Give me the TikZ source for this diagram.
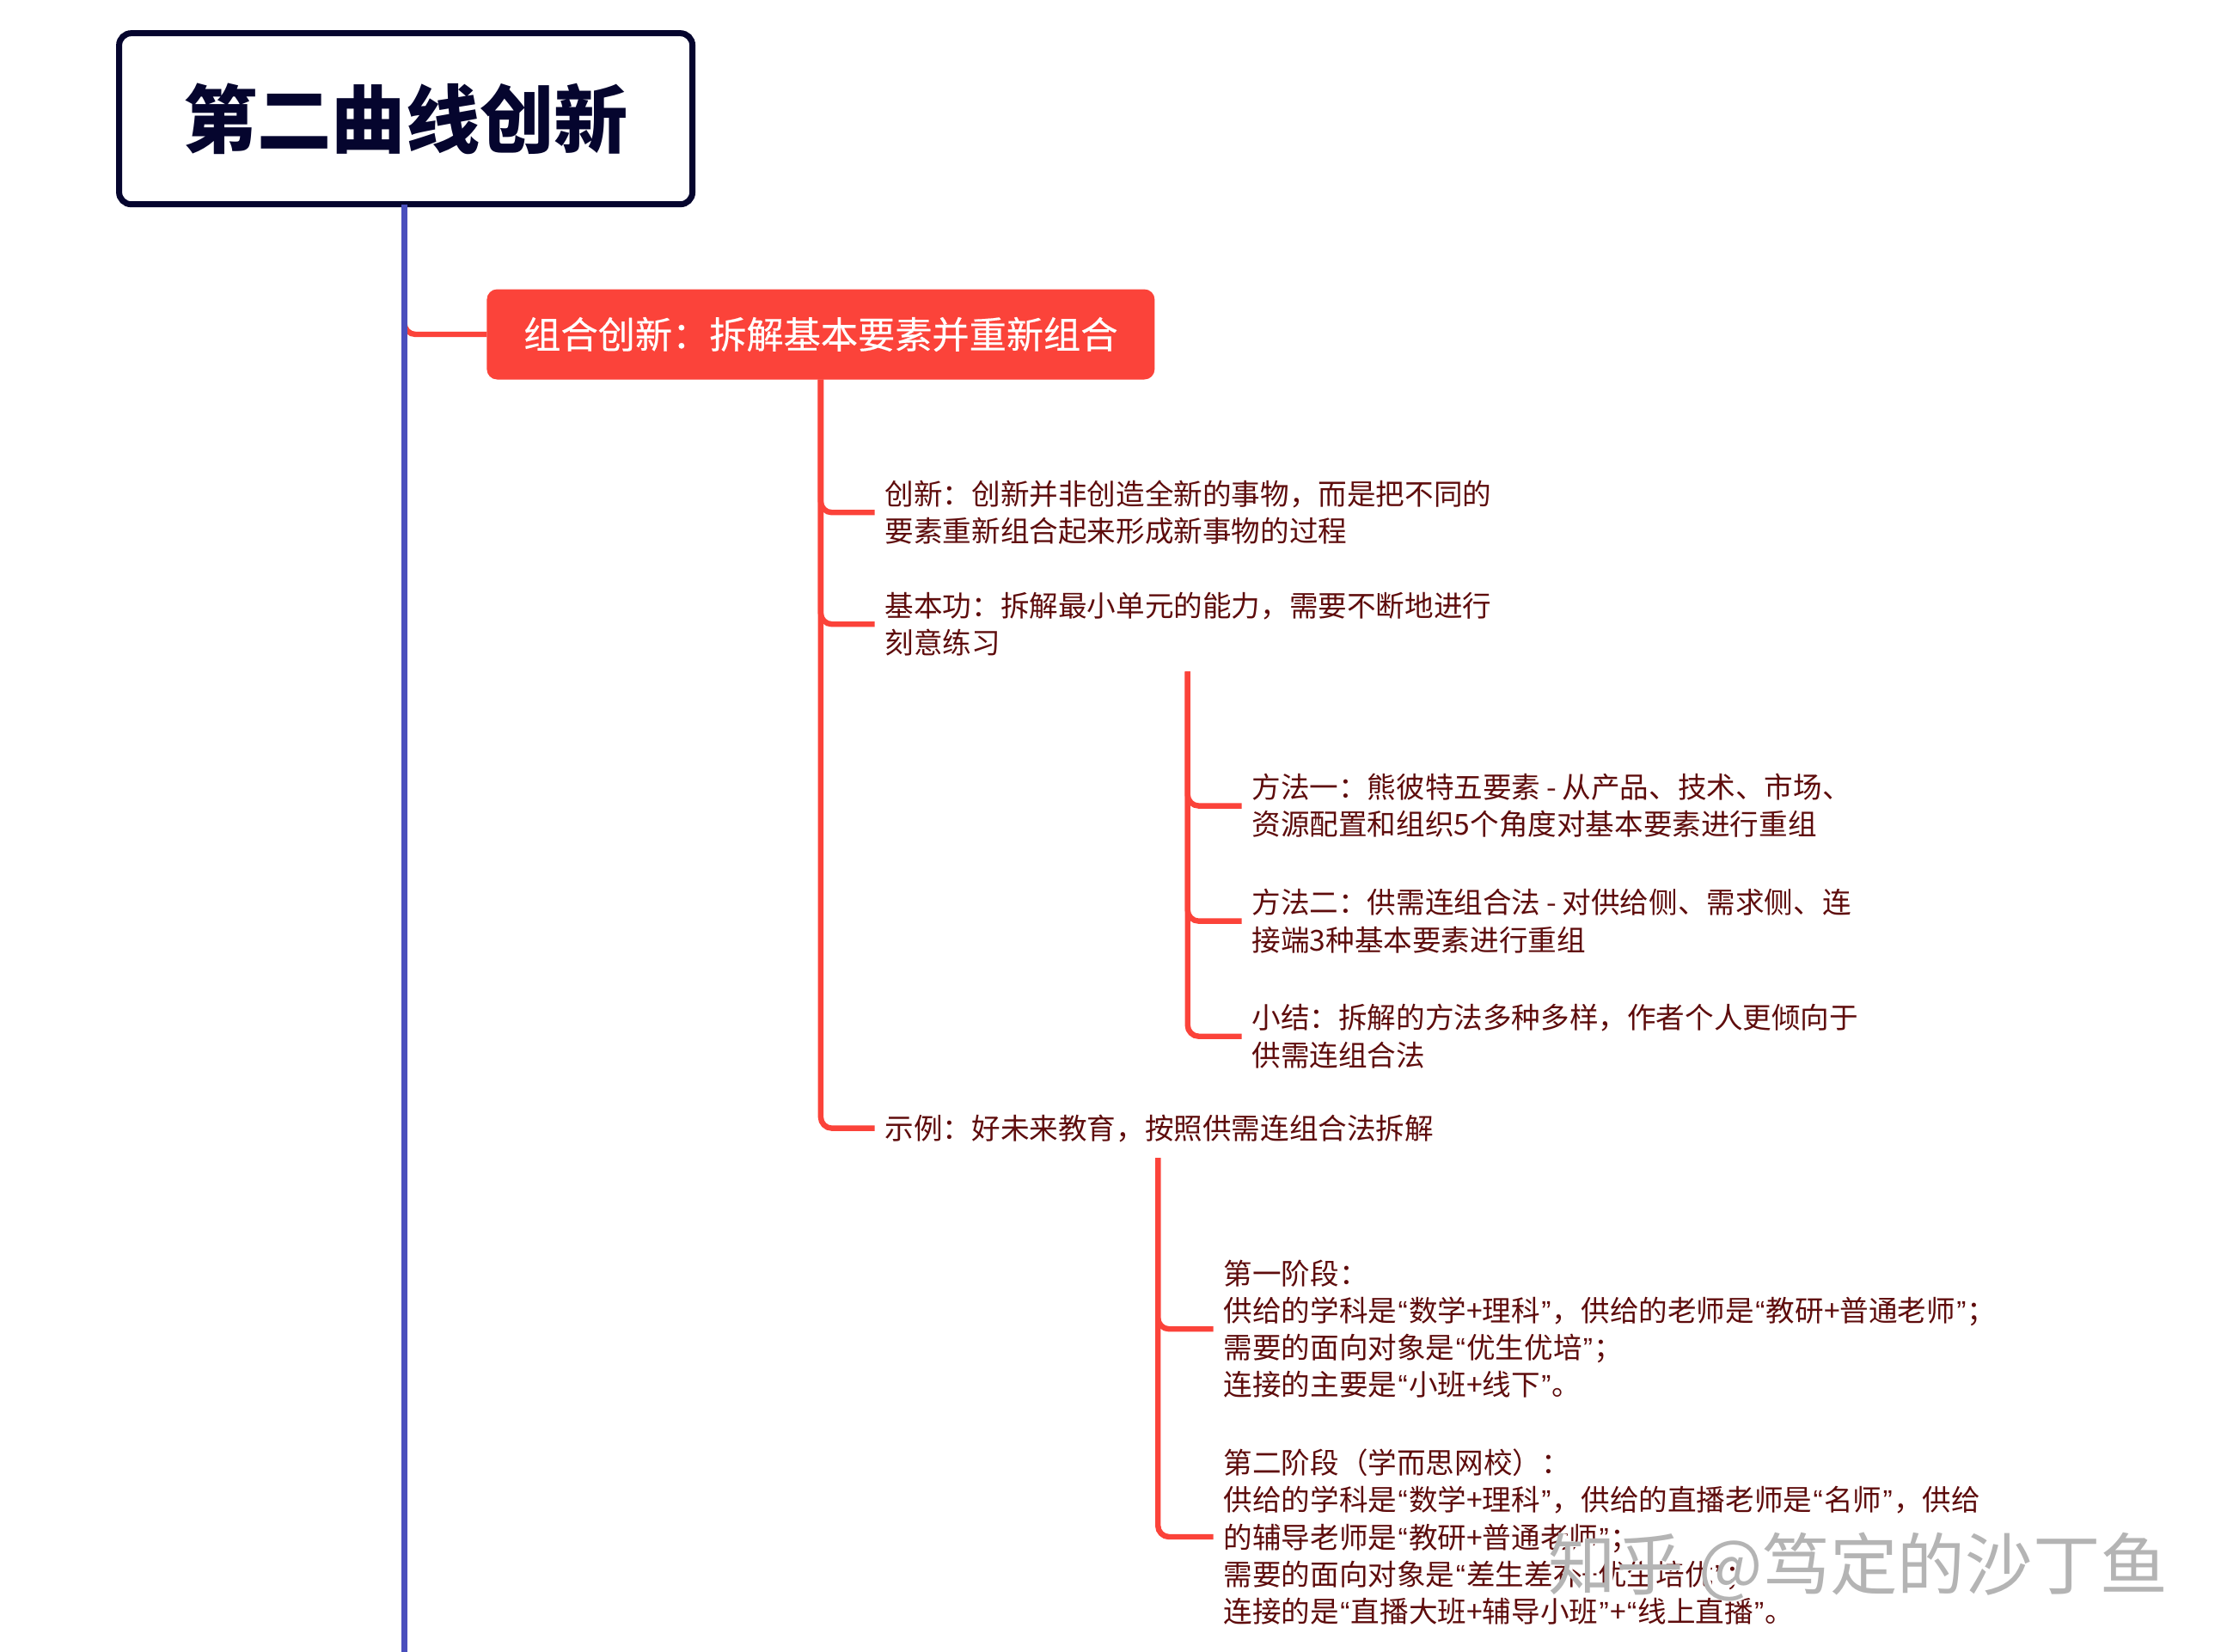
\documentclass[tikz,border=0pt]{standalone}
\usepackage{fontspec}
\setmainfont{Noto Sans CJK SC}
\newfontfamily\cjk{Noto Sans CJK SC}
\newfontfamily\cjkmed[FakeBold=0.35]{Noto Sans CJK SC}
\newfontfamily\qfont{Liberation Sans}
\newcommand{\qo}{{\kern0.65pt\qfont “\kern0.65pt}}
\newcommand{\qc}{{\kern0.65pt\qfont ”\kern0.65pt}}
\definecolor{navy}{HTML}{05052E}
\definecolor{bluel}{HTML}{4A4FBD}
\definecolor{redm}{HTML}{FB433A}
\definecolor{txt}{HTML}{5E0C0C}
\definecolor{wm}{HTML}{B4B4B4}
\tikzset{
  titlebox/.style={draw=navy,line width=3.5pt,fill=white,rounded corners=7pt,minimum width=333.5pt,minimum height=99.5pt,inner sep=0pt,outer sep=0pt,text=navy,font=\cjk\bfseries\fontsize{43.1}{50}\selectfont},
  redbox/.style={fill=redm,rounded corners=6pt,minimum width=388.5pt,minimum height=52.5pt,inner sep=0pt,outer sep=0pt,text=white,font=\cjkmed\fontsize{21.6}{26}\selectfont},
  leaf/.style={anchor=west,align=left,inner sep=0pt,outer sep=0pt,text=txt,font=\cjk\fontsize{16.8}{21.62}\selectfont},
  redline/.style={draw=redm,line width=3.2pt,rounded corners=6.5pt},
  blueline/.style={draw=bluel,line width=3.8pt},
  wmark/.style={anchor=west,inner sep=0pt,font=\cjk\fontsize{39.3}{46}\selectfont}
}
\begin{document}
\begin{tikzpicture}[x=0.8225pt,y=-0.8225pt]
\useasboundingbox (0,0) rectangle (1570.9,1168.4);
\fill[white] (0,0) rectangle (1570.9,1168.4);
% nodes
\node[titlebox] (title) at (287,84) {\raisebox{3pt}{第二曲线创新}};
\node[redbox] (rb) at (580.5,236.5) {组合创新：拆解基本要素并重新组合};
\node[leaf] (a1) at (626,362.5) {创新：创新并非创造全新的事物，而是把不同的\\要素重新组合起来形成新事物的过程};
\node[leaf] (a2) at (626,441.5) {基本功：拆解最小单元的能力，需要不断地进行\\刻意练习};
\node[leaf] (a3) at (626,798) {示例：好未来教育，按照供需连组合法拆解};
\node[leaf] (b1) at (885.5,570) {方法一：熊彼特五要素 \kern-0.4pt-\kern-0.4pt{} 从产品、技术、市场、\\资源配置和组织5个角度对基本要素进行重组};
\node[leaf] (b2) at (885.5,651.5) {方法二：供需连组合法 \kern-0.4pt-\kern-0.4pt{} 对供给侧、需求侧、连\\接端3种基本要素进行重组};
\node[leaf] (b3) at (885.5,733) {小结：拆解的方法多种多样，作者个人更倾向于\\供需连组合法};
\node[leaf] (c1) at (865.5,940) {第一阶段：\\供给的学科是\qo 数学+理科\qc ，供给的老师是\qo 教研+普通老师\qc ；\\需要的面向对象是\qo 优生优培\qc ；\\连接的主要是\qo 小班+线下\qc 。};
\node[leaf] (c2) at (865.5,1087) {第二阶段（学而思网校）：\\供给的学科是\qo 数学+理科\qc ，供给的直播老师是\qo 名师\qc ，供给\\的辅导老师是\qo 教研+普通老师\qc ；\\需要的面向对象是\qo 差生差补+优生培优\qc ；\\连接的是\qo 直播大班+辅导小班\qc +\qo 线上直播\qc 。};
% free ends
\coordinate (blueend) at (286,1168.4);
\coordinate (ctop) at (840,475);
\coordinate (dtop) at (819,819);
% connectors
\draw[redline] (blueend |- rb.north) |- (rb.west);
\draw[redline] (rb.south) |- ([xshift=-6pt]a1.west);
\draw[redline] (rb.south) |- ([xshift=-6pt]a2.west);
\draw[redline] (rb.south) |- ([xshift=-6pt]a3.west);
\draw[redline] (ctop) |- ([xshift=-6pt]b1.west);
\draw[redline] (ctop) |- ([xshift=-6pt]b2.west);
\draw[redline] (ctop) |- ([xshift=-6pt]b3.west);
\draw[redline] (dtop) |- ([xshift=-6pt]c1.west);
\draw[redline] (dtop) |- ([xshift=-6pt]c2.west);
\draw[blueline] (blueend |- title.south) -- (blueend);
% watermark
\node[wmark,text=white] (wms) at (1097.5,1109) {知乎 @笃定的沙丁鱼};
\node[wmark,text=wm] (wm) at (1095,1108) {知乎 @笃定的沙丁鱼};
\end{tikzpicture}
\end{document}
